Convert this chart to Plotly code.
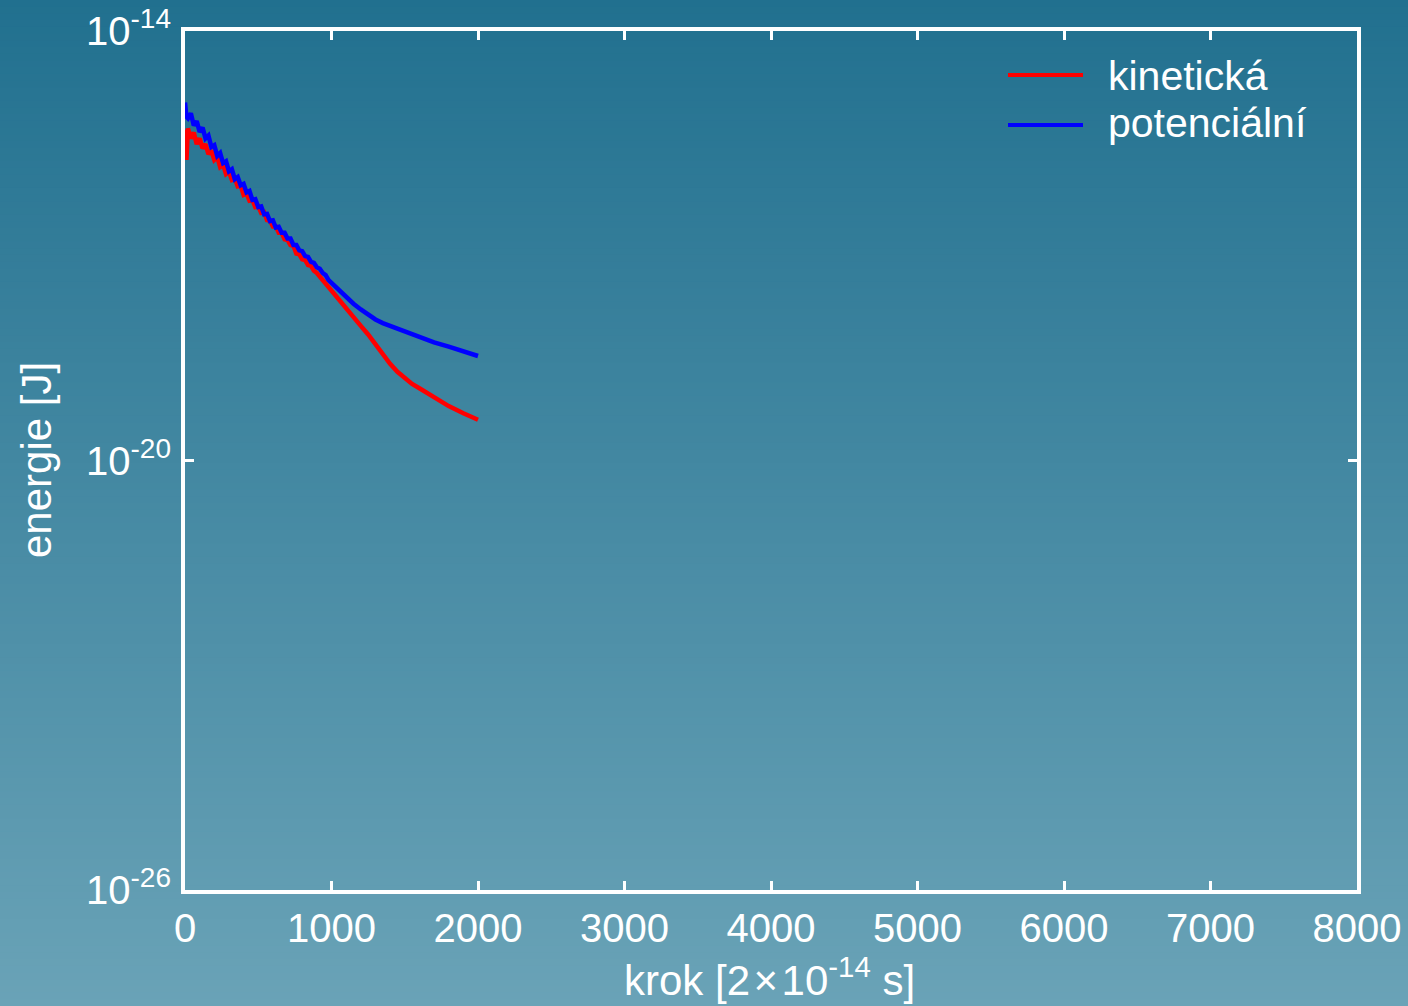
import plotly.graph_objects as go

# ---------------- data ----------------
steps_noisy = [0, 10, 20, 40, 60, 80, 100, 120, 140, 160, 180, 200, 220, 240, 260, 280, 300,
               320, 340, 360, 380, 400, 420, 440, 460, 480, 500, 520, 540, 560, 580, 600,
               620, 640, 660, 680, 700, 720, 740, 760, 780, 800, 820, 840, 860, 880, 900,
               920, 940, 960, 980, 1000]
steps_smooth = [1050, 1100, 1150, 1200, 1250, 1300, 1350, 1400, 1450, 1500, 1550, 1600,
                1700, 1800, 1900, 2000]

# log10 of kinetic energy [J]
kinetic_log10 = [-15.38, -15.80, -15.36, -15.50, -15.42, -15.58, -15.50, -15.64, -15.58, -15.72,
                 -15.67, -15.80, -15.76, -15.90, -15.87, -16.00, -15.97, -16.08, -16.06, -16.17,
                 -16.16, -16.29, -16.27, -16.37, -16.36, -16.46, -16.45, -16.54, -16.53, -16.64,
                 -16.65, -16.73, -16.73, -16.82, -16.82, -16.91, -16.92, -16.99, -17.00, -17.11,
                 -17.12, -17.19, -17.20, -17.27, -17.28, -17.35, -17.38, -17.43, -17.48, -17.54,
                 -17.57, -17.62,
                 -17.75, -17.88, -18.00, -18.12, -18.24, -18.38, -18.52, -18.65, -18.76, -18.85,
                 -18.93, -18.99, -19.11, -19.24, -19.34, -19.43]

# log10 of potential energy [J]
potential_log10 = [-15.00, -15.20, -15.22, -15.15, -15.32, -15.26, -15.41, -15.35, -15.50, -15.46,
                   -15.62, -15.595, -15.745, -15.705, -15.845, -15.82, -15.96, -15.93, -16.07, -16.04,
                   -16.155, -16.135, -16.255, -16.235, -16.36, -16.35, -16.46, -16.45, -16.56, -16.555,
                   -16.655, -16.645, -16.745, -16.735, -16.82, -16.82, -16.90, -16.90, -16.99, -16.99,
                   -17.065, -17.075, -17.145, -17.155, -17.225, -17.24, -17.30, -17.32, -17.38, -17.41,
                   -17.48, -17.52,
                   -17.62, -17.72, -17.81, -17.89, -17.96, -18.03, -18.08, -18.12, -18.16, -18.20,
                   -18.24, -18.28, -18.35, -18.41, -18.475, -18.54]

series_names = ["kinetická", "potenciální"]
series_colors = ["#ff0000", "#0000ff"]

x_ticks = [0, 1000, 2000, 3000, 4000, 5000, 6000, 7000, 8000]
y_tick_exponents = [-26, -20, -14]

x_title = "krok [2\u200a×\u200a10<sup>-14</sup> s]"
y_title = "energie [J]"

# ---------------- figure ----------------
W, H = 1408, 1006
FONT = "Liberation Sans, Arial, Helvetica, sans-serif"
steps = steps_noisy + steps_smooth

fig = go.Figure()
for name, color, vals in zip(series_names, series_colors, [kinetic_log10, potential_log10]):
    fig.add_trace(go.Scatter(
        x=steps, y=[10 ** v for v in vals], mode="lines", name=name,
        line=dict(color=color, width=4.5), showlegend=False,
    ))

# background vertical gradient
top = (33, 112, 143)
bot = (106, 163, 183)
n = 150
shapes = []
for i in range(n):
    t = (i + 0.5) / n
    c = tuple(round(top[k] + (bot[k] - top[k]) * t) for k in range(3))
    shapes.append(dict(type="rect", xref="paper", yref="paper", x0=0, x1=1,
                       y0=1 - (i + 1) / n - 0.001, y1=1 - i / n,
                       fillcolor="rgb(%d,%d,%d)" % c, line=dict(width=0), layer="below"))

# manual legend
leg_y = [75, 125]
for color, yy, name in zip(series_colors, leg_y, series_names):
    shapes.append(dict(type="line", xref="paper", yref="paper",
                       x0=1008 / W, x1=1083 / W, y0=1 - yy / H, y1=1 - yy / H,
                       line=dict(color=color, width=4), layer="above"))

annotations = []
for yy, name in zip([76, 123], series_names):
    annotations.append(dict(text=name, xref="paper", yref="paper", x=1106 / W, y=1 - yy / H,
                            xanchor="left", yanchor="middle", showarrow=False,
                            font=dict(family=FONT, size=41, color="white")))
annotations.append(dict(text=x_title, xref="paper", yref="paper", x=769 / W, y=1 - 977 / H,
                        xanchor="center", yanchor="middle", showarrow=False,
                        font=dict(family=FONT, size=42, color="white")))
annotations.append(dict(text=y_title, xref="paper", yref="paper", x=36 / W, y=1 - 460 / H,
                        xanchor="center", yanchor="middle", showarrow=False, textangle=-90,
                        font=dict(family=FONT, size=42, color="white")))

axis_common = dict(showline=True, linecolor="white", linewidth=4, mirror="ticks",
                   ticks="inside", ticklen=9, tickwidth=3, tickcolor="white",
                   showgrid=False, zeroline=False, automargin=False,
                   tickfont=dict(family=FONT, size=40, color="white"))

fig.update_layout(
    width=W, height=H, autosize=False,
    margin=dict(l=0, r=0, t=0, b=0, pad=0, autoexpand=False),
    paper_bgcolor="rgb(70,138,163)",
    plot_bgcolor="rgba(0,0,0,0)",
    shapes=shapes,
    annotations=annotations,
    xaxis=dict(domain=[185 / W, 1357 / W], range=[0, 8000], tickvals=x_ticks,
               ticktext=[str(v) for v in x_ticks], ticklabelstandoff=0, **axis_common),
    yaxis=dict(domain=[1 - 890 / H, 1 - 31 / H], type="log", range=[-26, -14],
               tickvals=[10 ** e for e in y_tick_exponents],
               ticktext=["10<sup>%d</sup>" % e for e in y_tick_exponents],
               ticklabelstandoff=2, **axis_common),
)

fig.write_html(
    "out.html",
    config={"responsive": False, "displayModeBar": False},
    post_script="document.body.style.margin='0';document.body.style.overflow='hidden';",
)
